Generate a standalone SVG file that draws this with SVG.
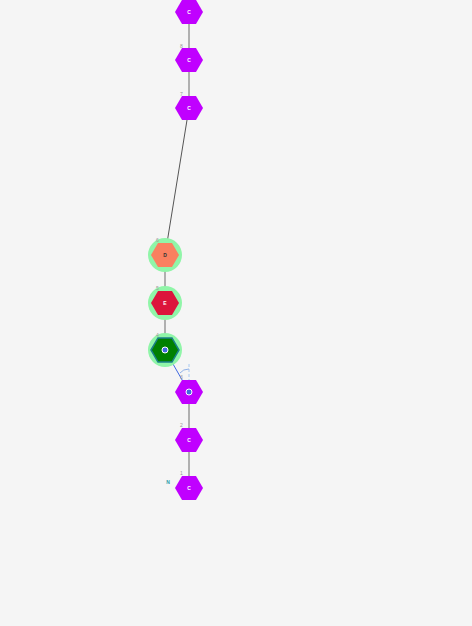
<svg xmlns="http://www.w3.org/2000/svg" width="472" height="626" viewBox="0 0 472 626">
<style>
.hex{stroke:none}
.c{fill:#c000ff}
.lbl{font-family:"Liberation Sans",Arial,sans-serif;font-size:5px;fill:#999}
.in{font-family:"Liberation Sans",Arial,sans-serif;font-size:5px;fill:#fff;text-anchor:middle;font-weight:bold}
.halo{fill:#90f5a8}
.bond{stroke:#999;stroke-width:1.5}
</style>
<defs>
<polygon id="hx" points="-14,0 -7,-12.1 7,-12.1 14,0 7,12.1 -7,12.1"/>
</defs>
<rect width="472" height="626" fill="#f5f5f5"/>
<g id="connectors">
<line class="bond" x1="189" y1="12" x2="189" y2="60"/>
<line class="bond" x1="189" y1="60" x2="189" y2="108"/>
<line x1="187" y1="120" x2="167" y2="243" stroke="#555" stroke-width="1"/>
<line class="bond" x1="165" y1="255" x2="165" y2="303"/>
<line class="bond" x1="165" y1="303" x2="165" y2="350"/>
<line class="bond" x1="189" y1="392" x2="189" y2="440"/>
<line class="bond" x1="189" y1="440" x2="189" y2="488"/>
<line x1="165" y1="350" x2="189" y2="392" stroke="#4169e1" stroke-width="1"/>
<line x1="189" y1="364" x2="189" y2="381" stroke="#a8c8f0" stroke-width="1" stroke-dasharray="3,2"/>
<path d="M180,373 Q183,369 189,369" fill="none" stroke="#8fb0e8" stroke-width="1"/>
</g>
<g id="n9"><use href="#hx" x="189" y="12" class="c"/><text class="in" x="189" y="14">C</text></g>
<g id="n8"><use href="#hx" x="189" y="60" class="c"/><text class="in" x="189" y="62">C</text><text class="lbl" x="180" y="48">8</text></g>
<g id="n7"><use href="#hx" x="189" y="108" class="c"/><text class="in" x="189" y="110">C</text><text class="lbl" x="180" y="96">7</text></g>
<g id="n6"><circle class="halo" cx="165" cy="255" r="17"/><use href="#hx" x="165" y="255" fill="#fa8060"/><text class="in" x="165" y="257" style="fill:#333">D</text><text class="lbl" x="156" y="242">6</text></g>
<g id="n5"><circle class="halo" cx="165" cy="303" r="17"/><use href="#hx" x="165" y="303" fill="#dc143c"/><text class="in" x="165" y="305">E</text><text class="lbl" x="156" y="290">5</text></g>
<g id="n4"><circle class="halo" cx="165" cy="350" r="17"/><use href="#hx" x="165" y="350" fill="#008000" stroke="#1a7f8a" stroke-width="1.5"/><circle cx="165" cy="350" r="3" fill="#4169e1" stroke="#fff" stroke-width="1"/><text class="lbl" x="156" y="337">4</text></g>
<g id="n3"><use href="#hx" x="189" y="392" class="c"/><circle cx="189" cy="392" r="3" fill="#4169e1" stroke="#fff" stroke-width="1"/><text class="lbl" x="180" y="379">3</text></g>
<g id="n2"><use href="#hx" x="189" y="440" class="c"/><text class="in" x="189" y="442">C</text><text class="lbl" x="180" y="427">2</text></g>
<g id="n1"><use href="#hx" x="189" y="488" class="c"/><text class="in" x="189" y="490">C</text><text class="lbl" x="180" y="475">1</text><text x="168" y="484" style="font-family:'Liberation Sans',Arial,sans-serif;font-size:5px;fill:#2a9aa8;text-anchor:middle;font-weight:bold">N</text></g>
</svg>
